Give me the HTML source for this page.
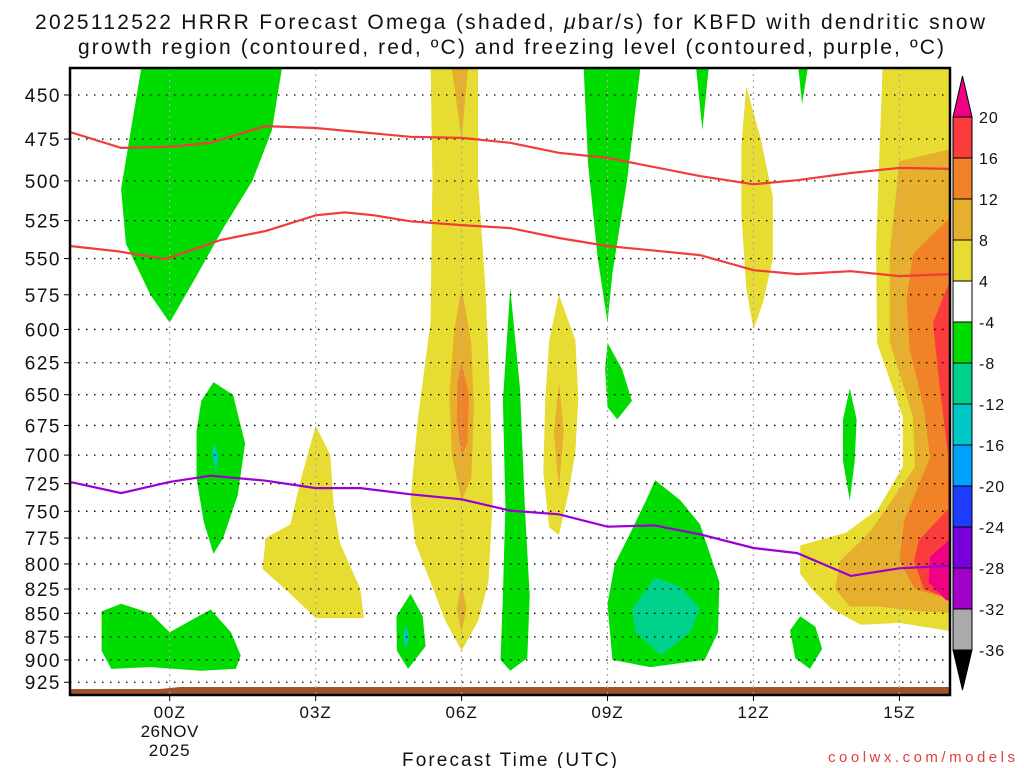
<!DOCTYPE html>
<html><head><meta charset="utf-8"><style>
body{margin:0;background:#fff;width:1024px;height:768px;overflow:hidden}
svg{display:block}
text{font-family:"Liberation Sans",sans-serif;fill:#111}
</style></head><body>
<svg id="chart" width="1024" height="768" xmlns="http://www.w3.org/2000/svg"></svg>
<script>
// ---- data ----
const pressureTicks=[450,475,500,525,550,575,600,625,650,675,700,725,750,775,800,825,850,875,900,925];
const timeTickHours=[0,3,6,9,12,15];
const timeTickLabels=["00Z","03Z","06Z","09Z","12Z","15Z"];
const cbLevels=[20,16,12,8,4,-4,-8,-12,-16,-20,-24,-28,-32,-36];
const cbColors=["#fa3c3c","#f08228","#e6af2d","#e6dc32","#ffffff","#00dc00","#00d28c","#00c8c8","#00a0ff","#1e3cff","#7800dc","#a000c8","#aaaaaa"];
const dgzUpperHours=[-2.05,-1.0,0,0.84,1.97,3,4.95,6,7,8,9,10.9,12,12.9,14,15,16.05];
const dgzUpperP=[470.9,480.2,479.6,477.2,467.5,468.6,473.7,474.3,477.2,483.1,486.1,497.1,502.1,499.6,495.2,492.1,492.7];
const dgzLowerHours=[-2.05,-1.1,-0.08,1.05,1.97,3,3.6,4.2,4.95,6,7,8,9,10.9,12,12.9,14,15,16.05];
const dgzLowerP=[541.6,545.0,550.4,537.6,531.7,521.6,519.7,521.6,525.4,527.9,529.8,536.3,541.6,547.7,557.9,560.6,558.6,562.0,560.6];
const frzHours=[-2.05,-1.0,0,0.84,1.97,3,3.92,4.95,6,7,8,9,9.96,10.9,12,12.9,14,15,16.05];
const frzP=[723.4,733.4,723.4,717.9,722.3,728.9,728.9,734.5,739.0,749.3,752.7,764.3,763.1,771.4,784.5,789.4,811.8,804.3,801.8];
// shaded omega regions: [level color index, [[hour,pressure],...]]
const regions=[
 [5,[[-0.55,430],[2.34,430],[2.1,470],[1.7,500],[1.1,530],[0.5,565],[0,595],[-0.4,575],[-0.9,540],[-1.0,505],[-0.8,470]]],
 [5,[[8.5,430],[9.7,430],[9.4,500],[9.1,560],[9.0,595],[8.8,550],[8.6,490]]],
 [5,[[9.0,610],[9.3,630],[9.5,655],[9.2,670],[9.0,660],[8.95,630]]],
 [5,[[10.8,430],[11.1,430],[10.95,470]]],
 [5,[[12.9,430],[13.15,430],[13.0,455]]],
 [5,[[0.9,640],[1.3,650],[1.55,690],[1.4,735],[1.1,775],[0.9,790],[0.7,760],[0.55,720],[0.55,680],[0.65,655]]],
 [7,[[0.9,690],[1.0,700],[0.95,715],[0.88,700]]],
 [5,[[-1.4,848],[-1.0,840],[-0.4,850],[0,870],[0.84,846],[1.26,870],[1.46,895],[1.36,910],[0.64,912],[-0.4,908],[-1.2,910],[-1.4,890]]],
 [3,[[3.0,675],[3.3,700],[3.37,745],[3.5,780],[3.92,825],[3.99,855],[3.0,855],[2.48,830],[1.91,805],[1.97,775],[2.48,762],[2.69,722]]],
 [3,[[5.36,430],[6.34,430],[6.34,500],[6.49,570],[6.59,655],[6.64,740],[6.55,818],[6.34,858],[6.0,890],[5.67,858],[5.36,818],[5.05,780],[4.95,740],[5.1,670],[5.36,595],[5.4,500]]],
 [2,[[5.77,430],[6.15,430],[6.0,475]]],
 [2,[[6.0,570],[6.2,610],[6.25,660],[6.2,720],[6.0,740],[5.8,700],[5.75,650],[5.85,600]]],
 [1,[[6.0,625],[6.15,650],[6.12,690],[6.0,700],[5.9,670],[5.92,640]]],
 [2,[[6.0,820],[6.1,845],[6.0,870],[5.9,845]]],
 [5,[[7.0,570],[7.2,645],[7.3,745],[7.4,832],[7.35,898],[7.0,912],[6.8,900],[6.85,832],[6.9,745],[6.85,655]]],
 [3,[[8.0,575],[8.34,608],[8.4,653],[8.34,697],[8.2,733],[8.0,772],[7.8,765],[7.68,715],[7.72,653],[7.8,608]]],
 [2,[[8.0,640],[8.1,680],[8.0,730],[7.9,680]]],
 [5,[[9.98,722],[10.5,740],[10.9,762],[11.3,818],[11.27,870],[11.0,900],[9.88,908],[9.1,900],[9.0,840],[9.15,800],[9.45,772],[9.77,742]]],
 [6,[[9.98,813],[10.5,823],[10.9,845],[10.7,870],[10.1,895],[9.57,870],[9.5,845]]],
 [5,[[4.95,830],[5.2,853],[5.26,885],[4.9,910],[4.67,890],[4.66,853]]],
 [7,[[4.85,862],[4.92,875],[4.85,888],[4.8,875]]],
 [5,[[13.98,645],[14.12,670],[14.08,705],[13.98,740],[13.84,705],[13.84,670]]],
 [5,[[12.96,853],[13.27,864],[13.41,888],[13.16,910],[12.86,898],[12.75,868]]],
 [3,[[11.85,445],[12.15,475],[12.4,510],[12.4,550],[12.2,580],[12.0,600],[11.85,570],[11.75,520],[11.75,480]]],
 [3,[[14.66,430],[16.2,430],[16.2,870],[15.6,865],[15.0,860],[14.2,862],[13.6,845],[13.2,825],[12.96,810],[12.96,782],[13.9,770],[14.56,748],[15.07,710],[15.07,668],[14.54,610],[14.52,541]]],
 [2,[[16.2,480],[15.0,488],[14.8,547],[14.8,609],[15.28,668],[15.32,710],[14.4,769],[13.78,797],[13.68,825],[13.98,843],[14.6,843],[15.4,848],[16.2,850]]],
 [1,[[16.2,518],[15.28,547],[15.15,578],[15.21,615],[15.5,660],[15.63,702],[15.1,758],[15.0,797],[15.32,825],[16.2,838]]],
 [0,[[16.2,552],[15.69,595],[15.83,645],[16.0,700],[16.0,748],[15.4,777],[15.3,797],[15.5,825],[16.2,838]]],
 [-1,[[16.2,770],[15.63,793],[15.6,818],[15.95,836],[16.2,840]]]
];
// ---- axes ----
const L=70,R=950,T=68,B=695;
const H0=-2.05,H1=16.04;
const x=h=>L+(h-H0)/(H1-H0)*(R-L);
const y=p=>95+815*Math.log(p/450);
const svg=document.getElementById('chart');
const NS='http://www.w3.org/2000/svg';
function mk(tag,attrs,parent){const e=document.createElementNS(NS,tag);for(const k in attrs)e.setAttribute(k,attrs[k]);(parent||svg).appendChild(e);return e;}
function txt(s,attrs,parent){const e=mk('text',attrs,parent);e.textContent=s;return e;}

const defs=mk('defs',{});
const cp=mk('clipPath',{id:'plotclip'},defs);
mk('rect',{x:L,y:T,width:R-L,height:B-T},cp);

const shade=mk('g',{'clip-path':'url(#plotclip)'});


regions.forEach((r,i)=>{
  const col=r[0]<0?'#f00082':cbColors[r[0]];
  const pg=mk('polygon',{points:r[1].map(d=>x(d[0]).toFixed(1)+','+y(d[1]).toFixed(1)).join(' '),fill:col},shade);
  
  
});
// ground
const gnd=mk('polygon',{points:`${L},${B} ${L},689 160,689 180,687 ${R},687 ${R},${B}`,fill:'#a0522d'});



// grid
const grid=mk('g',{});


pressureTicks.forEach(p=>{
  mk('line',{x1:L,x2:R,y1:y(p),y2:y(p),stroke:'#000','stroke-width':1.3,'stroke-dasharray':'1.5 6.5'},grid);
  mk('line',{x1:L-6,x2:L,y1:y(p),y2:y(p),stroke:'#000','stroke-width':1},grid);
  const t=txt(String(p),{x:L-9,y:y(p)+7,'text-anchor':'end','font-size':19,'letter-spacing':'1.5'});
  
  
});
timeTickHours.forEach((h,i)=>{
  mk('line',{x1:x(h),x2:x(h),y1:T,y2:B,stroke:'#aaa','stroke-width':1.2,'stroke-dasharray':'2 4'},grid);
  mk('line',{x1:x(h),x2:x(h),y1:B,y2:B+6,stroke:'#000','stroke-width':1},grid);
  const t=txt(timeTickLabels[i],{x:x(h),y:718,'text-anchor':'middle','font-size':17,'letter-spacing':'1'});
  
  
});
const d1=txt('26NOV',{x:x(0),y:737,'text-anchor':'middle','font-size':17,'letter-spacing':'0.5'});


const d2=txt('2025',{x:x(0),y:756,'text-anchor':'middle','font-size':17,'letter-spacing':'1'});



// lines
function line(hs,ps,color,name){
  const pl=mk('polyline',{points:hs.map((h,i)=>x(h).toFixed(1)+','+y(ps[i]).toFixed(1)).join(' '),fill:'none',stroke:color,'stroke-width':2.2,'clip-path':'url(#plotclip)'});
  
  
}
line(dgzUpperHours,dgzUpperP,'#f23c3c','dgz-upper-contour');
line(dgzLowerHours,dgzLowerP,'#f23c3c','dgz-lower-contour');
line(frzHours,frzP,'#9a00d2','freezing-level-contour');

// frame
const fr=mk('rect',{x:L,y:T,width:R-L,height:B-T,fill:'none',stroke:'#000','stroke-width':2.5});



// colorbar
const cb=mk('g',{});


const cbX=953,cbW=19,cbTop=117,seg=41;
mk('polygon',{points:`${cbX},${cbTop} ${cbX+cbW},${cbTop} ${cbX+cbW/2},76`,fill:'#f00082',stroke:'#000','stroke-width':1},cb);
cbColors.forEach((c,i)=>{
  const r=mk('rect',{x:cbX,y:cbTop+i*seg,width:cbW,height:seg,fill:c,stroke:'#000','stroke-width':1},cb);
  
  
});
const cbBot=cbTop+cbColors.length*seg;
mk('polygon',{points:`${cbX},${cbBot} ${cbX+cbW},${cbBot} ${cbX+cbW/2},690`,fill:'#000',stroke:'#000','stroke-width':1},cb);
cbLevels.forEach((v,i)=>{
  const t=txt(String(v),{x:979,y:cbTop+i*seg+6,'font-size':16,'letter-spacing':'1'},cb);
  
  
});

// titles
const t1=txt('',{x:35,y:29,'font-size':21,textLength:950,lengthAdjust:'spacing'});
t1.innerHTML='2025112522 HRRR Forecast Omega (shaded, <tspan font-style="italic">μ</tspan>bar/s) for KBFD with dendritic snow';


const t2=txt('growth region (contoured, red, ºC) and freezing level (contoured, purple, ºC)',{x:78,y:54,'font-size':21,textLength:866,lengthAdjust:'spacing'});


const xt=txt('Forecast Time (UTC)',{x:402,y:766,'font-size':19,textLength:215,lengthAdjust:'spacing'});


const cr=txt('coolwx.com/models',{x:828,y:762,'font-size':15,textLength:187,lengthAdjust:'spacing',style:'fill:#e04040'});


</script>
</body></html>
